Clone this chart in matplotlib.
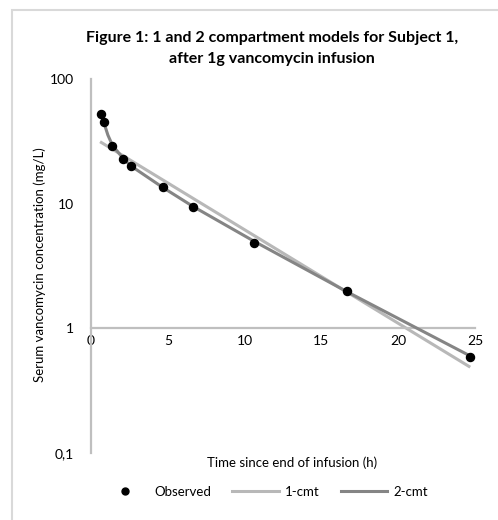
import matplotlib
matplotlib.use("Agg")
import matplotlib.pyplot as plt
from matplotlib.lines import Line2D
from matplotlib.patches import Rectangle
from matplotlib.ticker import FixedLocator, FixedFormatter

plt.rcParams['font.family'] = ['Lato', 'DejaVu Sans']

# Observed data
obs_t = [0.65, 0.83, 1.39, 2.10, 2.62, 4.67, 6.64, 10.61, 16.65, 24.69]
obs_c = [52.4, 45.2, 29.2, 22.8, 19.9, 13.5, 9.46, 4.84, 2.0, 0.586]

# 1-compartment model (straight on log axis)
one_t = [0.59, 24.69]
one_c = [31.4, 0.488]

# 2-compartment model
two_t = [0.65, 0.83, 1.1, 1.39, 2.10, 2.62, 4.67, 6.64, 10.61, 16.65, 24.69]
two_c = [52.0, 45.0, 35.5, 29.5, 23.0, 20.0, 13.5, 9.5, 5.0, 1.97, 0.60]

x_ticks = [0, 5, 10, 15, 20, 25]
y_ticks = [0.1, 1, 10, 100]
y_labels = ["0,1", "1", "10", "100"]

W, H = 498, 520
fig = plt.figure(figsize=(W / 100, H / 100), dpi=100)
fig.patch.set_facecolor('white')

# outer chart border
fig.patches.append(Rectangle((12 / W, -0.05), 1.2, 1 - 10 / H + 0.05,
                             transform=fig.transFigure, fill=False,
                             edgecolor='#d9d9d9', linewidth=1.5))

ax = fig.add_axes([91 / W, 1 - 453 / H, (475 - 91) / W, (453 - 79) / H])
ax.set_yscale('log')
ax.set_xlim(0, 25)
ax.set_ylim(0.1, 100)

ax.plot(one_t, one_c, color='#b8b8b8', lw=2.2, solid_capstyle='butt', zorder=2)
ax.plot(two_t, two_c, color='#858585', lw=2.2, solid_capstyle='butt', zorder=3)
ax.plot(obs_t, obs_c, 'o', color='black', ms=5.8, zorder=4, clip_on=False)

for s in ['top', 'right']:
    ax.spines[s].set_visible(False)
ax.spines['left'].set_color('#bfbfbf')
ax.spines['left'].set_linewidth(1.6)
ax.spines['bottom'].set_position(('data', 1))
ax.spines['bottom'].set_color('#bfbfbf')
ax.spines['bottom'].set_linewidth(1.6)

ax.xaxis.set_major_locator(FixedLocator(x_ticks))
ax.xaxis.set_major_formatter(FixedFormatter([str(v) for v in x_ticks]))
ax.yaxis.set_major_locator(FixedLocator(y_ticks))
ax.yaxis.set_major_formatter(FixedFormatter(y_labels))
ax.yaxis.set_minor_locator(FixedLocator([]))
ax.tick_params(axis='both', length=0, labelsize=10, colors='black')
ax.tick_params(axis='x', pad=5)
ax.tick_params(axis='y', pad=12)

fig.text(272 / W, 1 - 38 / H, "Figure 1: 1 and 2 compartment models for Subject 1,",
         ha='center', va='center', fontsize=11.5, fontweight='bold')
fig.text(272 / W, 1 - 59 / H, "after 1g vancomycin infusion",
         ha='center', va='center', fontsize=11.5, fontweight='bold')

fig.text(40 / W, 1 - 265 / H, "Serum vancomycin concentration (mg/L)",
         rotation=90, ha='center', va='center', fontsize=9.5)
fig.text(292 / W, 1 - 463 / H, "Time since end of infusion (h)",
         ha='center', va='center', fontsize=9.5)

handles = [Line2D([], [], marker='o', color='black', ls='none', ms=5),
           Line2D([], [], color='#b8b8b8', lw=2.2),
           Line2D([], [], color='#858585', lw=2.2)]
fig.legend(handles, ["Observed", "1-cmt", "2-cmt"], loc='center',
           bbox_to_anchor=(265 / W, 1 - 492 / H), ncol=3, frameon=False,
           fontsize=9.5, handlelength=3.5, handletextpad=0.5, columnspacing=1.6)

fig.savefig("out.png", dpi=100, facecolor='white')
